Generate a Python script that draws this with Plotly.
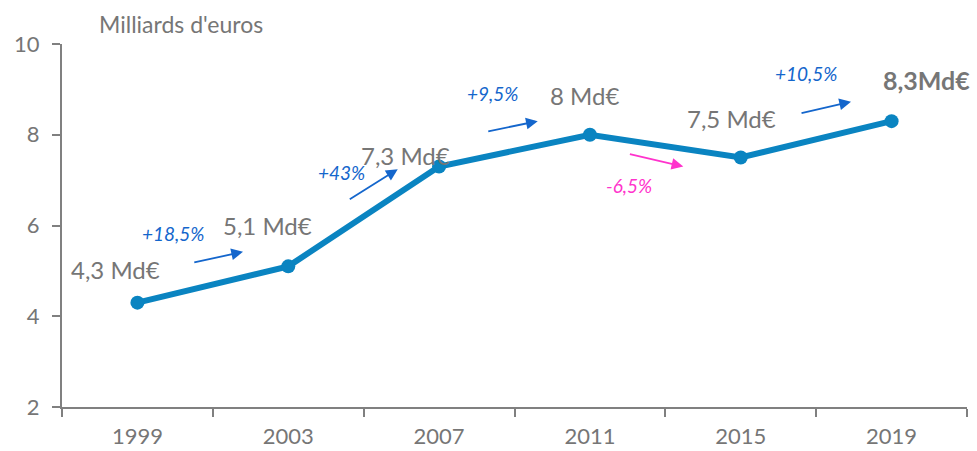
import plotly.graph_objects as go

years = ["1999", "2003", "2007", "2011", "2015", "2019"]
values = [4.3, 5.1, 7.3, 8.0, 7.5, 8.3]
value_labels = ["4,3 Md€", "5,1 Md€", "7,3 Md€", "8 Md€", "7,5 Md€", "8,3Md€"]
label_dx = [-22, -21, -34, -5, -9, 35]
label_dy = [33, 41, 11, 39, 39, 41]

pct_labels = ["+18,5%", "+43%", "+9,5%", "-6,5%", "+10,5%"]
pct_x = [0.236, 1.353, 2.351, 3.259, 4.433]
pct_y = [5.83, 7.16, 8.91, 6.89, 9.34]
arrow_tail_x = [0.367, 1.398, 2.316, 3.255, 4.393]
arrow_tail_y = [5.18, 6.56, 8.07, 7.58, 8.47]
arrow_head_x = [0.700, 1.726, 2.654, 3.619, 4.731]
arrow_head_y = [5.42, 7.24, 8.30, 7.30, 8.73]
pct_colors = ["#1466CC", "#1466CC", "#1466CC", "#FF33CC", "#1466CC"]

GRAY = "#767676"
AXIS = "#808080"
LINE = "#0A84C1"
FONT = "Lato"

fig = go.Figure()
fig.add_trace(go.Scatter(
    x=years, y=values, mode="lines+markers",
    line=dict(color=LINE, width=6),
    marker=dict(size=14, color=LINE),
    hoverinfo="skip", showlegend=False,
))

ann = []
for i, (yr, v, t) in enumerate(zip(years, values, value_labels)):
    ann.append(dict(
        x=i, y=v, xref="x", yref="y", text=t, showarrow=False,
        xshift=label_dx[i], yshift=label_dy[i],
        font=dict(family=FONT, size=24, color=GRAY),
    ))
ann[-1]["text"] = "<b>" + value_labels[-1] + "</b>"
ann[-1]["font"] = dict(family=FONT, size=25, color=GRAY)

for i, t in enumerate(pct_labels):
    ann.append(dict(
        x=pct_x[i], y=pct_y[i], xref="x", yref="y", text="<i>" + t + "</i>",
        showarrow=False, font=dict(family=FONT, size=19, color=pct_colors[i]),
    ))
    ann.append(dict(
        x=arrow_head_x[i], y=arrow_head_y[i], ax=arrow_tail_x[i], ay=arrow_tail_y[i],
        xref="x", yref="y", axref="x", ayref="y", text="", showarrow=True,
        arrowhead=2, arrowsize=1.3, arrowwidth=1.8, arrowcolor=pct_colors[i],
        standoff=0, startstandoff=0,
    ))

ann.append(dict(
    x=(181 - 62) / 905, y=1 + (44 - 24) / 363, xref="paper", yref="paper",
    xanchor="center", yanchor="middle", text="Milliards d'euros",
    showarrow=False, font=dict(family=FONT, size=23, color=GRAY),
))

fig.update_layout(
    width=977, height=451,
    margin=dict(l=62, r=10, t=44, b=44),
    paper_bgcolor="white", plot_bgcolor="white",
    font=dict(family=FONT, color=GRAY),
    annotations=ann,
    xaxis=dict(
        type="category", range=[-0.5, 5.5], tickson="boundaries",
        showline=True, linecolor=AXIS, linewidth=2,
        ticks="outside", ticklen=8, tickwidth=2, tickcolor=AXIS,
        showgrid=False, zeroline=False, ticklabelstandoff=9, automargin=False,
        tickfont=dict(family=FONT, size=22, color=GRAY),
    ),
    yaxis=dict(
        range=[2, 10], dtick=2, tick0=2,
        showline=True, linecolor=AXIS, linewidth=2,
        ticks="outside", ticklen=8, tickwidth=2, tickcolor=AXIS,
        showgrid=False, zeroline=False, ticklabelstandoff=8, automargin=False,
        tickfont=dict(family=FONT, size=22, color=GRAY),
    ),
)

fig.write_html(
    "out.html",
    config={"displayModeBar": False},
    post_script="document.body.style.margin='0';document.body.style.overflow='hidden';",
)
